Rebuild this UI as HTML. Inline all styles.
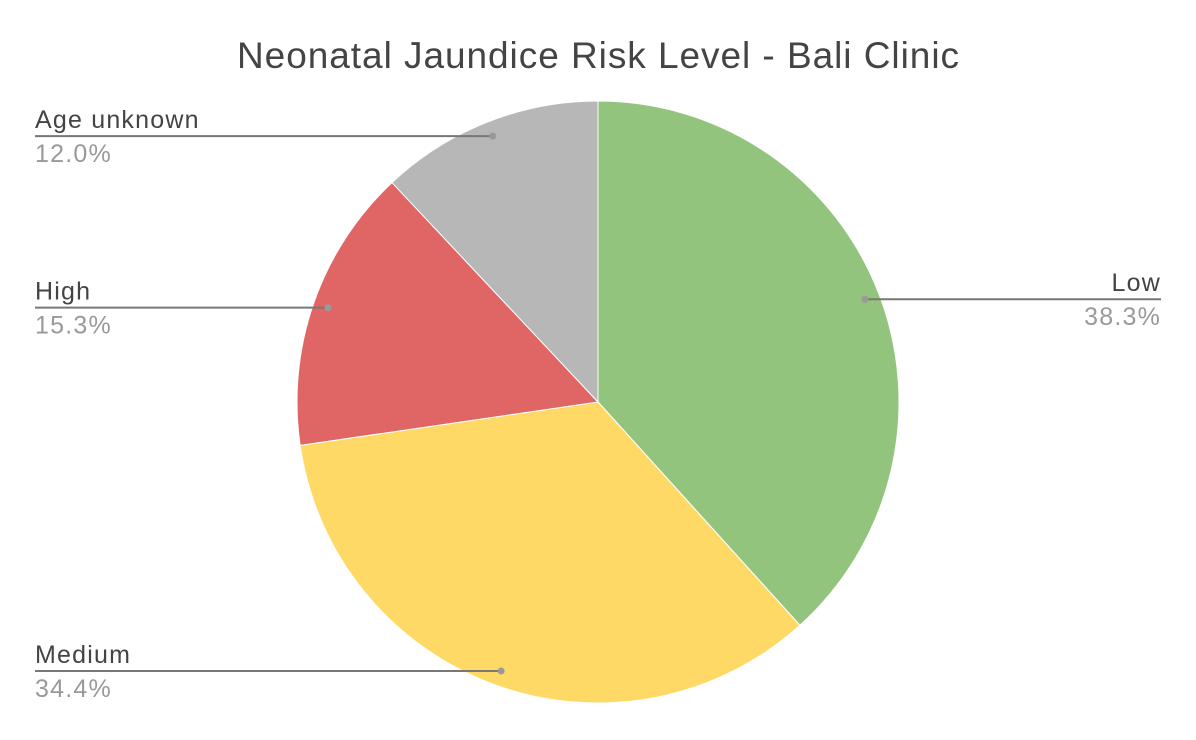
<!DOCTYPE html>
<html><head><meta charset="utf-8"><style>
html,body{margin:0;padding:0;background:#fff;}
svg{display:block;font-family:"Liberation Sans",Arial,sans-serif;}
</style></head><body>
<svg id="chart" width="1196" height="740">
<text x="598" y="68" text-anchor="middle" font-size="37" fill="#444" textLength="722" lengthAdjust="spacing">Neonatal Jaundice Risk Level - Bali Clinic</text>
<g id="slices"></g><g id="labels"></g>
</svg>
<script>
const categories=["Low","Medium","High","Age unknown"];
const values=[38.3,34.4,15.3,12.0];
const pctLabels=["38.3%","34.4%","15.3%","12.0%"];
const colors=["#93c47d","#ffd966","#e06666","#b7b7b7"];
const cx=598,cy=402,r=301;
const NS="http://www.w3.org/2000/svg";
const sg=document.getElementById('slices'),lg=document.getElementById('labels');
const total=values.reduce((a,b)=>a+b,0);
function pt(a,rr){return [cx+rr*Math.sin(a),cy-rr*Math.cos(a)];}
let acc=0;
values.forEach((v,i)=>{
  const a0=acc/total*2*Math.PI;acc+=v;const a1=acc/total*2*Math.PI;
  const p0=pt(a0,r),p1=pt(a1,r);
  const path=document.createElementNS(NS,'path');
  path.setAttribute('d',`M${cx},${cy}L${p0[0]},${p0[1]}A${r},${r} 0 ${a1-a0>Math.PI?1:0} 1 ${p1[0]},${p1[1]}Z`);
  path.setAttribute('fill',colors[i]);path.setAttribute('stroke','#fff');path.setAttribute('stroke-width','1');
  
  
  sg.appendChild(path);
  const am=(a0+a1)/2,d=pt(am,r*0.95);
  const right=Math.sin(am)>0;
  const x2=right?1161:35;
  const line=document.createElementNS(NS,'line');
  line.setAttribute('x1',d[0]);line.setAttribute('y1',d[1]);line.setAttribute('x2',x2);line.setAttribute('y2',d[1]);
  line.setAttribute('stroke','#777');line.setAttribute('stroke-width','2');
  
  
  lg.appendChild(line);
  const dot=document.createElementNS(NS,'circle');
  dot.setAttribute('cx',d[0]);dot.setAttribute('cy',d[1]);dot.setAttribute('r','3.5');dot.setAttribute('fill','#999');
  
  
  lg.appendChild(dot);
  const t1=document.createElementNS(NS,'text');
  t1.setAttribute('x',x2);t1.setAttribute('y',d[1]-8);t1.setAttribute('font-size','25');t1.setAttribute('fill','#444');
  t1.setAttribute('letter-spacing','1.2');
  t1.setAttribute('text-anchor',right?'end':'start');t1.textContent=categories[i];
  
  
  lg.appendChild(t1);
  const t2=document.createElementNS(NS,'text');
  t2.setAttribute('x',x2);t2.setAttribute('y',d[1]+26);t2.setAttribute('font-size','25');t2.setAttribute('fill','#999');
  t2.setAttribute('letter-spacing','1.2');
  t2.setAttribute('text-anchor',right?'end':'start');t2.textContent=pctLabels[i];
  
  
  lg.appendChild(t2);
});
</script>
</body></html>
